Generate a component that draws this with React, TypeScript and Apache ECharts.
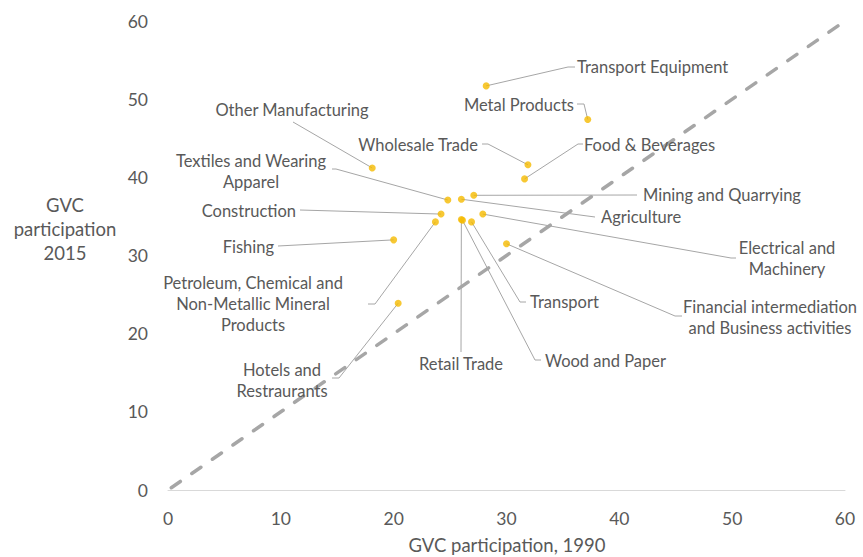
import React, { useEffect, useRef } from "react";
import * as echarts from "echarts";

const SECTORS = [
  "Transport Equipment",
  "Metal Products",
  "Wholesale Trade",
  "Food & Beverages",
  "Other Manufacturing",
  "Textiles and Wearing Apparel",
  "Construction",
  "Fishing",
  "Petroleum, Chemical and Non-Metallic Mineral Products",
  "Hotels and Restraurants",
  "Mining and Quarrying",
  "Agriculture",
  "Electrical and Machinery",
  "Transport",
  "Financial intermediation and Business activities",
  "Retail Trade",
  "Wood and Paper",
];

const LABEL_TEXT = [
  "Transport Equipment",
  "Metal Products",
  "Wholesale Trade",
  "Food & Beverages",
  "Other Manufacturing",
  "Textiles and Wearing\nApparel",
  "Construction",
  "Fishing",
  "Petroleum, Chemical and\nNon-Metallic Mineral\nProducts",
  "Hotels and\nRestraurants",
  "Mining and Quarrying",
  "Agriculture",
  "Electrical and\nMachinery",
  "Transport",
  "Financial intermediation\nand Business activities",
  "Retail Trade",
  "Wood and Paper",
];

const GVC_1990 = [28.2, 37.2, 31.9, 31.6, 18.1, 24.8, 24.2, 20.0, 23.7, 20.4, 27.1, 26.0, 27.9, 26.9, 30.0, 26.0, 26.1];
const GVC_2015 = [51.7, 47.4, 41.6, 39.8, 41.2, 37.1, 35.3, 32.0, 34.3, 23.9, 37.7, 37.2, 35.3, 34.3, 31.5, 34.6, 34.5];

const X_TICKS = [0, 10, 20, 30, 40, 50, 60];
const Y_TICKS = [0, 10, 20, 30, 40, 50, 60];
const DIAGONAL = [[0, 0], [60, 60]];

// label placement (pixels): text anchor, alignment, and leader line start / elbow
type LabelLayout = {
  x: number; y: number; align: "left" | "right" | "center";
  start: number[]; elbow?: number[];
};
const LABEL_LAYOUT: LabelLayout[] = [
  { x: 577, y: 67, align: "left", start: [575, 67], elbow: [568, 67] },
  { x: 574, y: 105, align: "right", start: [577, 104], elbow: [584, 104] },
  { x: 478, y: 145, align: "right", start: [482, 144], elbow: [488, 144] },
  { x: 584, y: 145, align: "left", start: [583, 144], elbow: [578, 144] },
  { x: 292, y: 110, align: "center", start: [293, 122] },
  { x: 251, y: 171, align: "center", start: [332, 169], elbow: [336, 169] },
  { x: 296, y: 211, align: "right", start: [300, 210] },
  { x: 274, y: 247, align: "right", start: [278, 246] },
  { x: 253, y: 304, align: "center", start: [368, 304], elbow: [375, 304] },
  { x: 282, y: 380, align: "center", start: [332, 378], elbow: [339, 378] },
  { x: 643, y: 195, align: "left", start: [637, 195] },
  { x: 601, y: 217, align: "left", start: [595, 217] },
  { x: 787, y: 258, align: "center", start: [736, 258], elbow: [731, 258] },
  { x: 530, y: 302, align: "left", start: [526, 302], elbow: [520, 302] },
  { x: 770, y: 317, align: "center", start: [682, 316], elbow: [675, 316] },
  { x: 461, y: 364, align: "center", start: [461, 352] },
  { x: 545, y: 361, align: "left", start: [541, 360], elbow: [535, 360] },
];

const TEXT_COLOR = "#595959";
const FONT = "Lato, 'Open Sans', sans-serif";

export default function App() {
  const ref = useRef<HTMLDivElement>(null);
  useEffect(() => {
    if (!ref.current) return;
    const chart = echarts.init(ref.current, undefined, { renderer: "svg" });
    const points = GVC_1990.map((x, i) => [x, GVC_2015[i]]);
    chart.setOption({
      animation: false,
      textStyle: { fontFamily: FONT },
      grid: { left: 168, right: 18, top: 21, bottom: 67, containLabel: false },
      xAxis: {
        type: "value",
        min: X_TICKS[0],
        max: X_TICKS[X_TICKS.length - 1],
        interval: 10,
        axisLine: { show: true, onZero: false, lineStyle: { color: "#d9d9d9", width: 1 } },
        axisTick: { show: false },
        splitLine: { show: false },
        axisLabel: { color: TEXT_COLOR, fontSize: 17.5, margin: 19, fontFamily: FONT },
      },
      yAxis: {
        type: "value",
        min: Y_TICKS[0],
        max: Y_TICKS[Y_TICKS.length - 1],
        interval: 10,
        axisLine: { show: false },
        axisTick: { show: false },
        splitLine: { show: false },
        axisLabel: { color: TEXT_COLOR, fontSize: 17.5, margin: 20, fontFamily: FONT },
      },
      series: [
        {
          type: "line",
          data: DIAGONAL,
          symbol: "none",
          silent: true,
          lineStyle: { color: "#a6a6a6", width: 3.5, type: [11, 14], dashOffset: -4, cap: "round" },
          z: 1,
        },
        {
          type: "scatter",
          data: points,
          symbolSize: 7,
          itemStyle: { color: "#F5BA00" },
          z: 5,
        },
      ],
    });

    const graphics: any[] = [];
    points.forEach((p, i) => {
      const px = chart.convertToPixel({ gridIndex: 0 }, p) as number[];
      const L = LABEL_LAYOUT[i];
      const linePts = [L.start];
      if (L.elbow) linePts.push(L.elbow);
      linePts.push(px);
      graphics.push({
        type: "polyline",
        shape: { points: linePts },
        style: { stroke: "#a6a6a6", lineWidth: 1, fill: null },
        z: 2,
        silent: true,
      });
      graphics.push({
        type: "text",
        x: L.x,
        y: L.y,
        style: {
          text: LABEL_TEXT[i],
          fill: TEXT_COLOR,
          font: `16.5px ${FONT}`,
          align: L.align,
          verticalAlign: "middle",
          lineHeight: 21,
        },
        z: 3,
        silent: true,
      });
    });
    graphics.push({
      type: "text",
      x: 65,
      y: 229,
      style: {
        text: "GVC\nparticipation\n2015",
        fill: TEXT_COLOR,
        font: `18.5px ${FONT}`,
        align: "center",
        verticalAlign: "middle",
        lineHeight: 24,
      },
    });
    graphics.push({
      type: "text",
      x: 507,
      y: 545,
      style: {
        text: "GVC participation, 1990",
        fill: TEXT_COLOR,
        font: `18.5px ${FONT}`,
        align: "center",
        verticalAlign: "middle",
      },
    });
    chart.setOption({ graphic: graphics });

    return () => chart.dispose();
  }, []);
  return <div ref={ref} style={{ width: 863, height: 557, position: "absolute", left: 0, top: 0, background: "#fff" }} />;
}
